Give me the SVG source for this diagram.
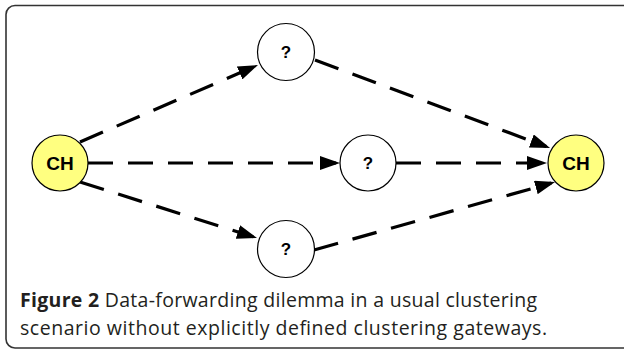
<svg xmlns="http://www.w3.org/2000/svg" width="624" height="350" viewBox="0 0 624 350">
<style>
.frame{fill:#fff;stroke:#333;stroke-width:1.6}
.node{stroke:#000;stroke-width:1.2}
.ch{fill:#ffff80}
.q{fill:#fff}
.lbl{font-family:"Liberation Sans",Arial,sans-serif;font-weight:bold;fill:#000;text-anchor:middle}
.edge{fill:none;stroke:#000;stroke-width:3.2;stroke-dasharray:25 15;marker-end:url(#arr)}
.cap{font-family:"Open Sans","Noto Sans",sans-serif;font-size:19.5px;fill:#231f20}
</style>
<defs>
<marker id="arr" markerUnits="userSpaceOnUse" markerWidth="20" markerHeight="14" refX="16" refY="7" orient="auto">
<path d="M0,0 L20,7 L0,14 z" fill="#000"/>
</marker>
</defs>
<rect class="frame" x="6" y="5.5" width="640" height="342.5" rx="9"/>
<g id="connectors">
<path class="edge" d="M80,142 L254.3,66.6"/>
<path class="edge" d="M315,60 L546.3,146.6"/>
<path class="edge" d="M88,163 L336,163"/>
<path class="edge" d="M396,163 L543,163"/>
<path class="edge" d="M80,182 L253.2,236.8"/>
<path class="edge" d="M314,250 L551.2,183.1"/>
</g>
<g id="ch-left">
<circle class="node ch" cx="60" cy="163" r="28"/>
<text class="lbl" x="60" y="170" font-size="19">CH</text>
</g>
<g id="q-top">
<circle class="node q" cx="286" cy="52" r="28.5"/>
<text class="lbl" x="286" y="58" font-size="17">?</text>
</g>
<g id="q-mid">
<circle class="node q" cx="368" cy="163" r="28"/>
<text class="lbl" x="368" y="169" font-size="17">?</text>
</g>
<g id="q-bot">
<circle class="node q" cx="286" cy="249" r="28.5"/>
<text class="lbl" x="286" y="255" font-size="17">?</text>
</g>
<g id="ch-right">
<circle class="node ch" cx="576" cy="163" r="28"/>
<text class="lbl" x="576" y="170" font-size="19">CH</text>
</g>
<text class="cap" x="20" y="307" textLength="517" lengthAdjust="spacing"><tspan font-weight="bold">Figure 2</tspan> Data-forwarding dilemma in a usual clustering</text>
<text class="cap" x="20" y="335" textLength="527" lengthAdjust="spacing">scenario without explicitly defined clustering gateways.</text>
</svg>
